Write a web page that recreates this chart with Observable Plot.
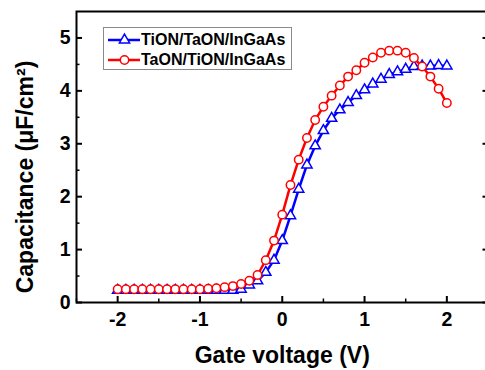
<!DOCTYPE html>
<html>
<head>
<meta charset="utf-8">
<script src="https://cdn.jsdelivr.net/npm/d3@7"></script>
<script src="https://cdn.jsdelivr.net/npm/@observablehq/plot@0.6"></script>
<style>
  html, body { margin: 0; padding: 0; background: #fff; }
  #wrap { position: relative; width: 485px; height: 370px; overflow: hidden; font-family: "Liberation Sans", Arial, sans-serif; }
  #legend { position: absolute; left: 103px; top: 27px; width: 189px; height: 43px; box-sizing: border-box; border: 1px solid #8a8a8a; background: #fff; }
  #legend .row { position: absolute; left: 0; height: 20px; width: 186px; }
  #legend svg { position: absolute; left: 3px; top: 0; }
  #legend span { position: absolute; left: 37px; top: 0; line-height: 20px; font-size: 16px; font-weight: bold; color: #000; white-space: nowrap; }
</style>
</head>
<body>
<div id="wrap"></div>
<script>
// ---- data ----
const voltage = [-2.0,-1.9,-1.8,-1.7,-1.6,-1.5,-1.4,-1.3,-1.2,-1.1,-1.0,-0.9,-0.8,-0.7,-0.6,-0.5,-0.4,-0.3,-0.2,-0.1,
  0.0,0.1,0.2,0.3,0.4,0.5,0.6,0.7,0.8,0.9,1.0,1.1,1.2,1.3,1.4,1.5,1.6,1.7,1.8,1.9,2.0];
const seriesNames = ["TiON/TaON/InGaAs", "TaON/TiON/InGaAs"];
const tionTaon = [0.23,0.23,0.23,0.23,0.23,0.23,0.23,0.23,0.23,0.23,0.23,0.23,0.23,0.23,0.23,0.25,0.33,0.41,0.57,0.80,
  1.17,1.64,2.14,2.60,2.96,3.25,3.48,3.64,3.78,3.91,4.02,4.13,4.22,4.31,4.36,4.41,4.46,4.47,4.47,4.48,4.47];
const taonTion = [0.25,0.25,0.25,0.25,0.25,0.25,0.25,0.25,0.25,0.25,0.25,0.26,0.27,0.29,0.31,0.35,0.41,0.52,0.80,1.17,
  1.66,2.22,2.70,3.11,3.45,3.70,3.91,4.10,4.27,4.39,4.53,4.63,4.72,4.76,4.76,4.72,4.62,4.46,4.27,4.04,3.77];
const xMajorTicks = [-2, -1, 0, 1, 2];
const xMinorTicks = [-2.5, -1.5, -0.5, 0.5, 1.5, 2.5];
const yMajorTicks = [0, 1, 2, 3, 4, 5];
const yMinorTicks = [0.5, 1.5, 2.5, 3.5, 4.5];
const xLabel = "Gate voltage (V)";
const yLabel = "Capacitance (\u03BCF/cm\u00B2)";
const colors = ["#0000ff", "#ff0000"];

const blue = voltage.map((v, i) => ({v, c: tionTaon[i]}));
const red = voltage.map((v, i) => ({v, c: taonTion[i]}));

const font = "Liberation Sans, Arial, sans-serif";
const tickCommon = {tickFormat: () => "", label: null, stroke: "black"};

const chart = Plot.plot({
  width: 485,
  height: 370,
  marginLeft: 76,
  marginRight: -2.5,
  marginTop: 11,
  marginBottom: 68,
  style: {fontFamily: font, background: "transparent", overflow: "visible"},
  x: {domain: [-2.5, 2.5]},
  y: {domain: [0, 5.5]},
  marks: [
    // tick labels
    Plot.axisX(xMajorTicks, {tickSize: 0, tickPadding: 10, fontSize: 19.5, fontWeight: "bold", label: null, tickFormat: d => String(d), fill: "black"}),
    Plot.axisY(yMajorTicks, {tickSize: 0, tickPadding: 6, fontSize: 19.5, fontWeight: "bold", label: null, tickFormat: d => String(d), fill: "black"}),
    // inward ticks
    Plot.axisX(xMajorTicks, {...tickCommon, tickSize: -6, strokeWidth: 2}),
    Plot.axisX(xMinorTicks, {...tickCommon, tickSize: -3.5, strokeWidth: 1.5}),
    Plot.axisY(yMajorTicks, {...tickCommon, tickSize: -6, strokeWidth: 2}),
    Plot.axisY(yMinorTicks, {...tickCommon, tickSize: -3.5, strokeWidth: 1.5}),
    Plot.axisY(yMajorTicks, {...tickCommon, anchor: "right", tickSize: -6, strokeWidth: 2}),
    Plot.axisY(yMinorTicks, {...tickCommon, anchor: "right", tickSize: -3.5, strokeWidth: 1.5}),
    Plot.frame({stroke: "black", strokeWidth: 2}),
    // series
    Plot.line(blue, {x: "v", y: "c", stroke: colors[0], strokeWidth: 2.5}),
    Plot.dot(blue, {x: "v", y: "c", symbol: "triangle", r: 3.8, stroke: colors[0], fill: "white", strokeWidth: 1.5}),
    Plot.line(red, {x: "v", y: "c", stroke: colors[1], strokeWidth: 2.5}),
    Plot.dot(red, {x: "v", y: "c", symbol: "circle", r: 4.2, stroke: colors[1], fill: "white", strokeWidth: 1.5}),
    // axis titles
    Plot.text([xLabel], {frameAnchor: "bottom", textAnchor: "middle", lineAnchor: "middle", dy: 53.6, fontSize: 23, fontWeight: "bold", fill: "black"}),
    Plot.text([yLabel], {frameAnchor: "left", textAnchor: "middle", lineAnchor: "middle", rotate: -90, dx: -50.4, dy: 20, fontSize: 23, fontWeight: "bold", fill: "black"})
  ]
});

const wrap = document.getElementById("wrap");
wrap.appendChild(chart);

// legend
const legend = document.createElement("div");
legend.id = "legend";
const syms = [d3.symbolTriangle, d3.symbolCircle];
const rs = [3.8, 4.2];
seriesNames.forEach((name, i) => {
  const row = document.createElement("div");
  row.className = "row";
  row.style.top = (i === 0 ? 1.5 : 21.5) + "px";
  const path = d3.symbol(syms[i], Math.PI * rs[i] * rs[i])();
  row.innerHTML = `<svg width="34" height="20" viewBox="0 0 34 20">
      <line x1="1" x2="33" y1="10" y2="10" stroke="${colors[i]}" stroke-width="2.5"/>
      <path d="${path}" transform="translate(17.5,10)" fill="white" stroke="${colors[i]}" stroke-width="1.5"/>
    </svg><span>${name}</span>`;
  legend.appendChild(row);
});
wrap.appendChild(legend);
</script>
</body>
</html>
